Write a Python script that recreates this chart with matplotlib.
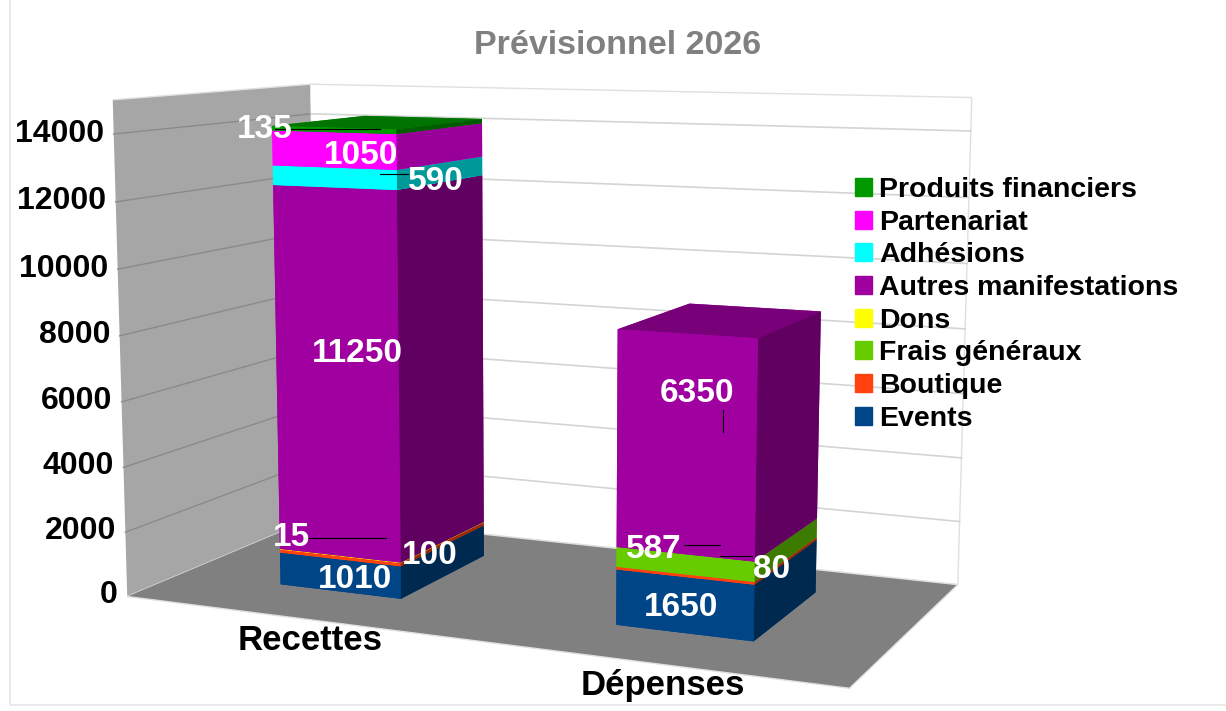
import matplotlib
matplotlib.use("Agg")
import matplotlib.pyplot as plt
from matplotlib.lines import Line2D
from matplotlib.patches import Patch, Rectangle
from matplotlib.colors import to_rgb

plt.rcParams['font.family'] = ['Liberation Sans', 'DejaVu Sans']
plt.rcParams['font.weight'] = 'bold'

W, H = 1226, 711

categories = ['Recettes', 'Dépenses']
series = ['Events', 'Boutique', 'Frais généraux', 'Dons',
          'Autres manifestations', 'Adhésions', 'Partenariat', 'Produits financiers']
recettes = [1010, 100, 0, 15, 11250, 590, 1050, 135]
depenses = [1650, 80, 587, 0, 6350, 0, 0, 0]
colors = ['#004586', '#ff420e', '#66cc00', '#ffff00',
          '#a000a0', '#00ffff', '#ff00ff', '#009900']
zticks = [0, 2000, 4000, 6000, 8000, 10000, 12000, 14000]


def shade(c, k):
    return tuple(v * k for v in to_rgb(c))


def px(x, y):
    return x / W, 1 - y / H


fig = plt.figure(figsize=(W / 100, H / 100), dpi=100)
fig.add_artist(Rectangle(px(10, 705), 1.0, 1.0, fill=False, ec='#e6e6e6', lw=1.2, zorder=-5))

ax = fig.add_axes([-0.062, -0.004, 1, 1], projection='3d', computed_zorder=False)
ax.patch.set_alpha(0)
ax.set_proj_type('persp', focal_length=0.6)
ax.view_init(elev=9, azim=-66)
ax.set_box_aspect((1.95, 1.0, 1.29), zoom=1.34)
ax.set_xlim(0, 2, view_margin=0)
ax.set_ylim(0, 1, view_margin=0)
ax.set_zlim(0, 15000, view_margin=0)

ax.xaxis.set_pane_color('#a6a6a6')
ax.yaxis.set_pane_color('#ffffff')
ax.zaxis.set_pane_color('#808080')
for axis in (ax.xaxis, ax.yaxis, ax.zaxis):
    axis.pane.set_edgecolor('#e0e0e0')
    axis.line.set_color('none')
ax.set_xticks([])
ax.set_yticks([])
ax.set_zticks([])
ax.grid(False)

# grid lines on the two walls
for z in zticks[1:]:
    ax.plot([0, 0], [0, 1], [z, z], color='#8a8a8a', lw=1, zorder=1, clip_on=False)
    ax.plot([0, 2], [1, 1], [z, z], color='#d4d4d4', lw=1.2, zorder=1, clip_on=False)

# stacked bars, bottom segment first
bar_x = [0.31, 1.3]
for i, vals in enumerate([recettes, depenses]):
    base = 0
    for j, v in enumerate(vals):
        if v == 0:
            continue
        c = colors[j]
        faces = [c, shade(c, 0.75), c, c, c, shade(c, 0.6)]
        ax.bar3d(bar_x[i], 0.27, base, 0.37, 0.5, v, color=faces, shade=False,
                 zorder=2 + i * 10 + j, linewidth=0)
        base += v

for z in zticks:
    ax.text(-0.03, 0, z, str(z), ha='right', va='center', fontsize=23, color='black', zorder=50)

t = fig.text(*px(618, 45), 'Prévisionnel 2026', ha='center', va='center',
             fontsize=24.5, color='#808080')
fig.text(*px(310, 641), categories[0], ha='center', va='center', fontsize=25, color='black')
fig.text(*px(663, 685), categories[1], ha='center', va='center', fontsize=25, color='black')

# data labels with their leader lines
labels = [(recettes[7], 265, 129), (recettes[6], 361, 156), (recettes[5], 436, 182),
          (recettes[4], 357, 354), (recettes[3], 291, 538), (recettes[1], 430, 556),
          (recettes[0], 355, 580), (depenses[4], 697, 393), (depenses[2], 654, 549),
          (depenses[1], 772, 570), (depenses[0], 681, 608)]
for v, x, y in labels:
    fig.text(*px(x, y), str(v), ha='center', va='center', fontsize=24, color='white', zorder=20)

leaders = [(275, 129, 380, 129), (380, 174, 408, 174), (308, 538, 386, 538),
           (723, 410, 723, 432), (684, 545, 720, 545), (720, 556, 752, 556)]
for x0, y0, x1, y1 in leaders:
    fig.add_artist(Line2D([x0 / W, x1 / W], [1 - y0 / H, 1 - y1 / H], color='black', lw=0.8, zorder=10))

handles = [Patch(color=colors[j], label=series[j]) for j in range(len(series) - 1, -1, -1)]
fig.legend(handles=handles, loc='upper left', bbox_to_anchor=px(855, 177), frameon=False,
           fontsize=20.5, handlelength=0.6, handleheight=0.6, handletextpad=0.25,
           labelspacing=0.235, borderaxespad=0, borderpad=0)

fig.savefig('out.png', dpi=100)
